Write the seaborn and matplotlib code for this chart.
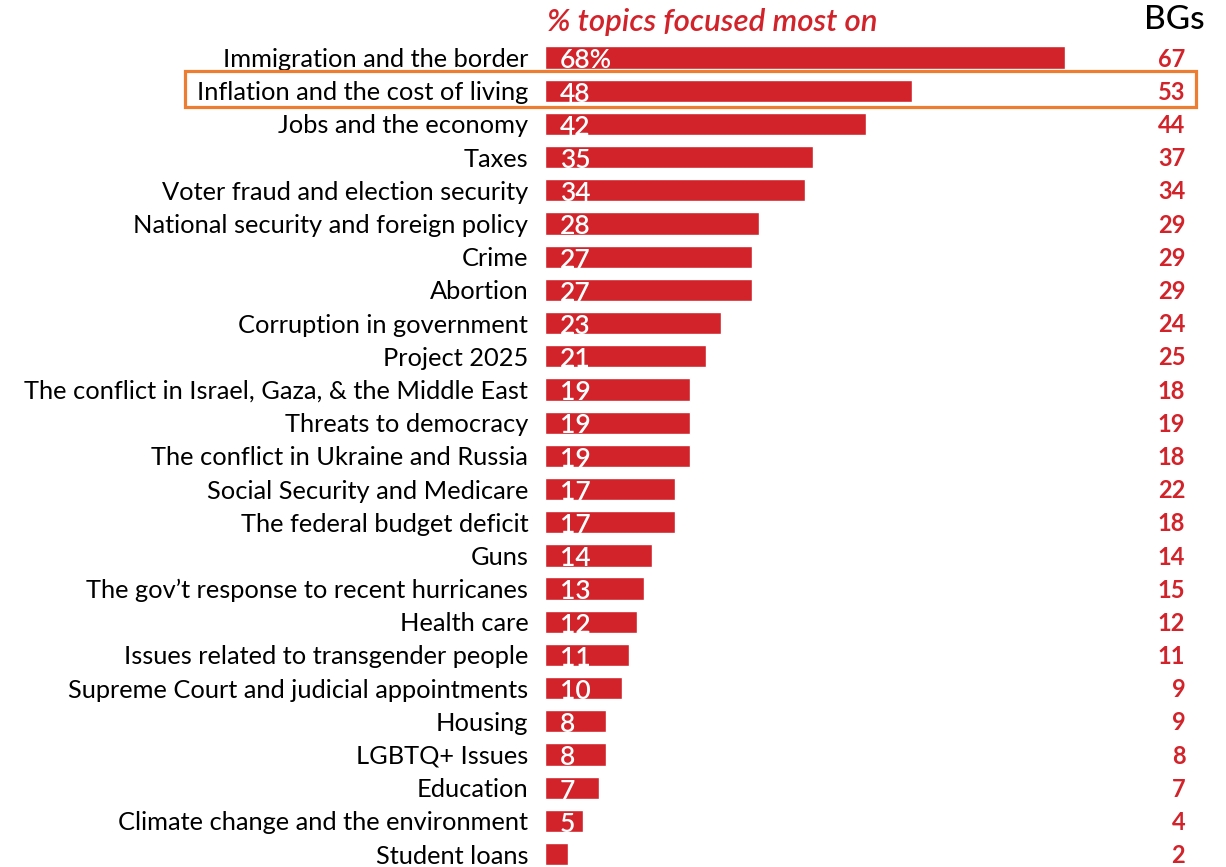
import numpy as np
import pandas as pd
import seaborn as sns
import matplotlib.pyplot as plt
from matplotlib.patches import Rectangle

topics = ['Immigration and the border', 'Inflation and the cost of living',
          'Jobs and the economy', 'Taxes', 'Voter fraud and election security',
          'National security and foreign policy', 'Crime', 'Abortion',
          'Corruption in government', 'Project 2025',
          'The conflict in Israel, Gaza, & the Middle East', 'Threats to democracy',
          'The conflict in Ukraine and Russia', 'Social Security and Medicare',
          'The federal budget deficit', 'Guns',
          'The gov\u2019t response to recent hurricanes', 'Health care',
          'Issues related to transgender people',
          'Supreme Court and judicial appointments', 'Housing', 'LGBTQ+ Issues',
          'Education', 'Climate change and the environment', 'Student loans']
pct = [68, 48, 42, 35, 34, 28, 27, 27, 23, 21, 19, 19, 19, 17, 17, 14, 13, 12, 11, 10, 8, 8, 7, 5, 3]
bgs = [67, 53, 44, 37, 34, 29, 29, 29, 24, 25, 18, 19, 18, 22, 18, 14, 15, 12, 11, 9, 9, 8, 7, 4, 2]
bar_text = ['68%'] + [str(v) for v in pct[1:-1]] + ['']

red = '#D2232A'
orange = '#ED7D31'

sns.set_style('white')
plt.rcParams['font.family'] = ['Lato', 'DejaVu Sans']

dados = pd.DataFrame({'topic': topics, 'pct': pct})

fig = plt.figure(figsize=(12.26, 8.67), dpi=100)
ax = fig.add_axes([545 / 1226, 0, 681 / 1226, 1 - 41 / 867])
sns.barplot(data=dados, x='pct', y='topic', color=red, width=0.67,
            saturation=1, orient='h', ax=ax)
ax.set_xlim(0, 681 / 7.65)
ax.set_ylim(24.39, -0.5)
sns.despine(ax=ax, left=True, bottom=True)
ax.set_xticks([])
ax.set_xlabel('')
ax.set_ylabel('')
ax.tick_params(axis='y', length=0, pad=12, labelsize=18.3, labelcolor='black')

for i, (t, b) in enumerate(zip(bar_text, bgs)):
    ax.text(1.9, i + 0.1, t, color='white', fontsize=19, ha='left', va='center',
            fontweight='semibold')
    ax.text(83.7, i + 0.05, str(b), color=red, fontsize=17, ha='right', va='center',
            fontweight='bold')

fig.text(547 / 1226, 1 - 22 / 867, '% topics focused most on', color=red,
         fontsize=22.5, fontstyle='italic', fontweight='semibold', ha='left', va='center')
fig.text(1205 / 1226, 1 - 20 / 867, 'BGs', color='black', fontsize=24,
         ha='right', va='center', fontweight='medium')

fig.patches.append(Rectangle((185 / 1226, 1 - 107 / 867), 1011 / 1226, 36 / 867,
                             transform=fig.transFigure, fill=False,
                             edgecolor=orange, linewidth=2.3))

fig.savefig('out.png', dpi=100)
